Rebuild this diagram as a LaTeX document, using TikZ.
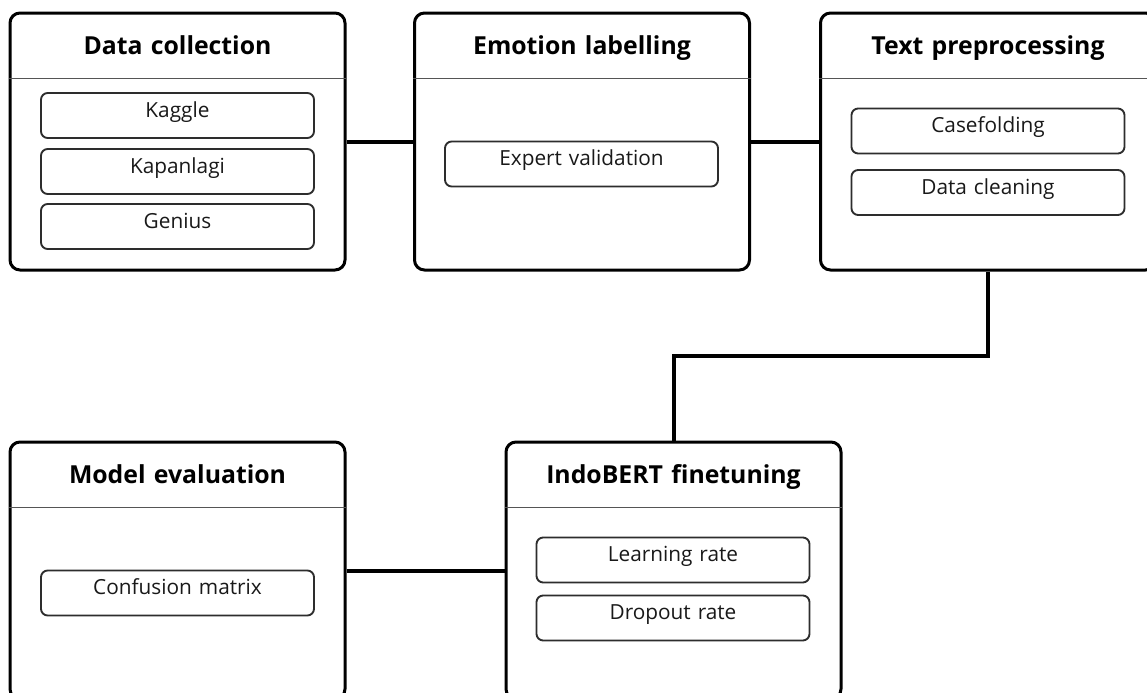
\documentclass[tikz,border=0pt]{standalone}
\usepackage{fontspec}
\setmainfont{Open Sans}
\usetikzlibrary{calc}
\definecolor{divgray}{RGB}{85,85,85}
\definecolor{innergray}{RGB}{45,45,45}
\definecolor{textgray}{RGB}{25,25,25}
\begin{document}
\begin{tikzpicture}[x=0.75pt,y=-0.75pt,
  stage/.style={draw=black, line width=2.25pt, rounded corners=7.5pt, fill=white,
    inner sep=0pt, text width=251.25pt, align=center,
    text height=30.75pt, text depth=162pt,
    font=\fontsize{18.6}{22}\selectfont\bfseries},
  item/.style={draw=innergray, line width=1.4pt, rounded corners=5pt,
    inner sep=0pt, text width=204.75pt, align=center,
    text height=18pt, text depth=15.75pt, text=textgray,
    font=\fontsize{15.6}{19}\selectfont},
  divider/.style={draw=divgray, line width=1.3pt},
  link/.style={draw=black, line width=3pt}]
\useasboundingbox (0,0) rectangle (1147,693);

% stages
\node[stage] (b1) at (177.5,141.5) {Data collection};
\node[stage] (b2) at (582,141.5) {Emotion labelling};
\node[stage] (b3) at (988,141.5) {Text preprocessing};
\node[stage] (b4) at (177.5,570.5) {Model evaluation};
\node[stage] (b5) at (673.5,570.5) {IndoBERT finetuning};

% dividers
\foreach \b in {b1,b2,b3,b4,b5}{
  \draw[divider] ([yshift=-50.25pt]\b.north west) -- ([yshift=-50.25pt]\b.north east);
}

% items
\node[item] (kaggle) at (177.5,115.5) {Kaggle};
\node[item] (kapanlagi) at (177.5,171.5) {Kapanlagi};
\node[item] (genius) at (177.5,226.5) {Genius};
\node[item] (expert) at (581.5,164) {Expert validation};
\node[item] (casefold) at (988,131) {Casefolding};
\node[item] (cleaning) at (988,192.5) {Data cleaning};
\node[item] (confusion) at (177.5,593) {Confusion matrix};
\node[item] (lr) at (673,560) {Learning rate};
\node[item] (dropout) at (673,618) {Dropout rate};

% connectors
\draw[link] (b1.east) -- (b2.west);
\draw[link] (b2.east) -- (b3.west);
\draw[link] (b3.south) |- ($(b3.south)!0.5!(b5.north)$) -| (b5.north);
\draw[link] (b4.east) -- (b5.west);
\end{tikzpicture}
\end{document}
